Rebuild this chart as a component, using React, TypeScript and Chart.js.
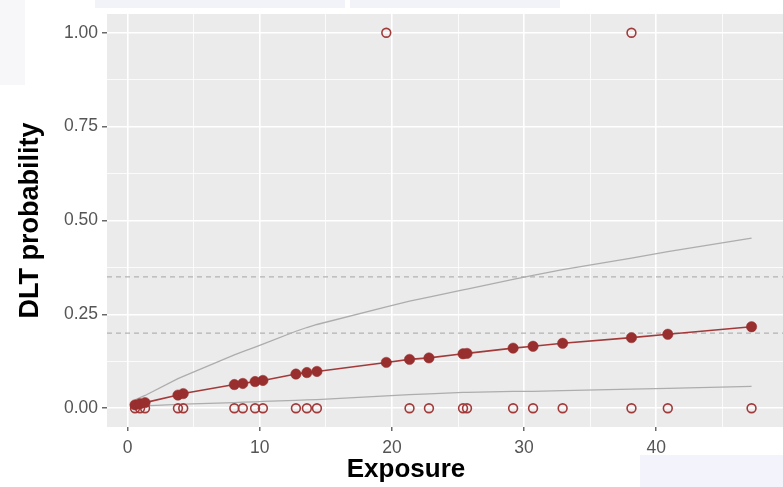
import React, { useEffect, useRef } from "react";
import { Chart, registerables } from "chart.js";

Chart.register(...registerables);

// ---- data ----
const exposure = [0.55, 0.93, 1.31, 3.8, 4.2, 8.07, 8.71, 9.64, 10.23, 12.73, 13.56, 14.32, 19.57, 21.33, 22.8, 25.38, 25.68, 29.17, 30.68, 32.92, 38.13, 40.88, 47.22];
const dltProb = [0.009, 0.012, 0.015, 0.035, 0.039, 0.063, 0.066, 0.071, 0.074, 0.091, 0.095, 0.098, 0.122, 0.13, 0.134, 0.145, 0.146, 0.16, 0.165, 0.173, 0.188, 0.197, 0.217];
const upperCI = [0.022, 0.028, 0.034, 0.079, 0.085, 0.142, 0.151, 0.163, 0.171, 0.205, 0.215, 0.223, 0.27, 0.285, 0.296, 0.315, 0.317, 0.343, 0.354, 0.369, 0.4, 0.417, 0.453];
const lowerCI = [0.003, 0.005, 0.006, 0.01, 0.011, 0.015, 0.016, 0.017, 0.018, 0.021, 0.022, 0.023, 0.033, 0.036, 0.038, 0.042, 0.042, 0.045, 0.045, 0.047, 0.051, 0.053, 0.058];
const obsNoDltExposure = [0.55, 0.93, 1.31, 3.8, 4.2, 8.07, 8.71, 9.64, 10.23, 12.73, 13.56, 14.32, 21.33, 22.8, 25.38, 25.68, 29.17, 30.68, 32.92, 38.13, 40.88, 47.22];
const obsDltExposure = [19.57, 38.13];
const targetLines = [0.2, 0.35];
const xTickValues = [0, 10, 20, 30, 40];
const yTickValues = [0, 0.25, 0.5, 0.75, 1];
const xMinorValues = [5, 15, 25, 35, 45];
const yMinorValues = [0.125, 0.375, 0.625, 0.875];
const X_MIN = -1.57;
const X_MAX = 49.6;
const Y_MIN = -0.05;
const Y_MAX = 1.05;

const RED = "#982E2E";
const RED_LINE = "#A33A3A";
const GRAY = "#ADADAD";
const FONT = "'Liberation Sans', Arial, sans-serif";

export default function App() {
  const ref = useRef<HTMLCanvasElement | null>(null);

  useEffect(() => {
    if (!ref.current) return;
    const isMajorX = (v: number) => xTickValues.includes(v);
    const isMajorY = (v: number) => yTickValues.some((t) => Math.abs(t - v) < 1e-9);

    const bgPlugin = {
      id: "panelBg",
      beforeDraw(chart: any) {
        const { ctx, chartArea } = chart;
        ctx.save();
        ctx.fillStyle = "#EBEBEB";
        ctx.fillRect(chartArea.left, chartArea.top, chartArea.right - chartArea.left, chartArea.bottom - chartArea.top);
        ctx.restore();
      },
      afterDraw(chart: any) {
        const { ctx } = chart;
        ctx.save();
        ctx.fillStyle = "#000";
        ctx.font = `bold 26px ${FONT}`;
        ctx.textAlign = "center";
        ctx.textBaseline = "middle";
        ctx.fillText("Exposure", 406, 470);
        ctx.restore();
      },
    };

    const datasets: any[] = [
      {
        label: "Predicted DLT probability",
        data: exposure.map((x, i) => ({ x, y: dltProb[i] })),
        showLine: true,
        borderColor: RED_LINE,
        borderWidth: 1.6,
        pointRadius: 5.2,
        pointBackgroundColor: RED,
        pointBorderColor: RED,
        pointBorderWidth: 0.5,
      },
      {
        label: "Observed (no DLT)",
        data: obsNoDltExposure.map((x) => ({ x, y: 0 })),
        showLine: false,
        pointRadius: 4.4,
        pointBackgroundColor: "rgba(0,0,0,0)",
        pointBorderColor: "#A23A3A",
        pointBorderWidth: 1.6,
      },
      {
        label: "Observed (DLT)",
        data: obsDltExposure.map((x) => ({ x, y: 1 })),
        showLine: false,
        pointRadius: 4.4,
        pointBackgroundColor: "rgba(0,0,0,0)",
        pointBorderColor: "#A23A3A",
        pointBorderWidth: 1.6,
      },
      {
        label: "Upper",
        data: exposure.map((x, i) => ({ x, y: upperCI[i] })),
        showLine: true,
        borderColor: GRAY,
        borderWidth: 1.3,
        pointRadius: 0,
      },
      {
        label: "Lower",
        data: exposure.map((x, i) => ({ x, y: lowerCI[i] })),
        showLine: true,
        borderColor: GRAY,
        borderWidth: 1.3,
        pointRadius: 0,
      },
      ...targetLines.map((t) => ({
        label: "Target " + t,
        data: [
          { x: X_MIN, y: t },
          { x: X_MAX, y: t },
        ],
        showLine: true,
        borderColor: "#B3B3B3",
        borderWidth: 1.3,
        borderDash: [5, 4],
        pointRadius: 0,
      })),
    ];

    const chart = new Chart(ref.current, {
      type: "scatter",
      data: { datasets },
      plugins: [bgPlugin],
      options: {
        animation: false,
        responsive: false,
        layout: { autoPadding: false, padding: { top: 14, left: 0, right: 0, bottom: 0 } },
        plugins: { legend: { display: false }, tooltip: { enabled: false } },
        scales: {
          x: {
            type: "linear",
            min: X_MIN,
            max: X_MAX,
            afterBuildTicks: (s: any) => {
              s.ticks = [...xTickValues, ...xMinorValues].sort((a, b) => a - b).map((v) => ({ value: v }));
            },
            afterFit: (s: any) => {
              s.height = 60;
              s.paddingLeft = 0;
              s.paddingRight = 0;
            },
            border: { display: false },
            grid: {
              color: "#FFFFFF",
              lineWidth: (c: any) => (c.tick && isMajorX(c.tick.value) ? 1.6 : 0.8),
              tickLength: 4,
              tickColor: (c: any) => (c.tick && isMajorX(c.tick.value) ? "#444444" : "rgba(0,0,0,0)"),
              tickWidth: 1.2,
            },
            ticks: {
              autoSkip: false,
              maxRotation: 0,
              padding: 7,
              color: "#555555",
              font: { family: FONT, size: 17.5 },
              callback: (v: any) => (isMajorX(Number(v)) ? String(v) : ""),
            },
          },
          y: {
            type: "linear",
            min: Y_MIN,
            max: Y_MAX,
            afterBuildTicks: (s: any) => {
              s.ticks = [...yTickValues, ...yMinorValues].sort((a, b) => a - b).map((v) => ({ value: v }));
            },
            afterFit: (s: any) => {
              s.width = 107;
              s.paddingTop = 0;
              s.paddingBottom = 0;
            },
            border: { display: false },
            grid: {
              color: "#FFFFFF",
              lineWidth: (c: any) => (c.tick && isMajorY(c.tick.value) ? 1.6 : 0.8),
              tickLength: 5,
              tickColor: (c: any) => (c.tick && isMajorY(c.tick.value) ? "#444444" : "rgba(0,0,0,0)"),
              tickWidth: 1.2,
            },
            ticks: {
              autoSkip: false,
              padding: 4,
              color: "#555555",
              font: { family: FONT, size: 17.5 },
              callback: (v: any) => (isMajorY(Number(v)) ? Number(v).toFixed(2) : ""),
            },
            title: {
              display: true,
              text: "DLT probability",
              color: "#000000",
              font: { family: FONT, size: 27, weight: "bold", lineHeight: 1 },
              padding: { top: 17, bottom: 0 },
            },
          },
        },
      } as any,
    });
    return () => chart.destroy();
  }, []);

  return (
    <div style={{ position: "fixed", left: 0, top: 0, width: 783, height: 487, background: "#FFFFFF", overflow: "hidden" }}>
      <div style={{ position: "absolute", left: 0, top: 0, width: 25, height: 85, background: "#F7F7F9" }} />
      <div style={{ position: "absolute", left: 95, top: 0, width: 250, height: 8, background: "#F2F2F9" }} />
      <div style={{ position: "absolute", left: 350, top: 0, width: 210, height: 8, background: "#F2F2F9" }} />
      <div style={{ position: "absolute", left: 640, top: 455, width: 143, height: 32, background: "#F3F3FB" }} />
      <canvas ref={ref} width={783} height={487} style={{ display: "block", position: "absolute", left: 0, top: 0 }} />
    </div>
  );
}
